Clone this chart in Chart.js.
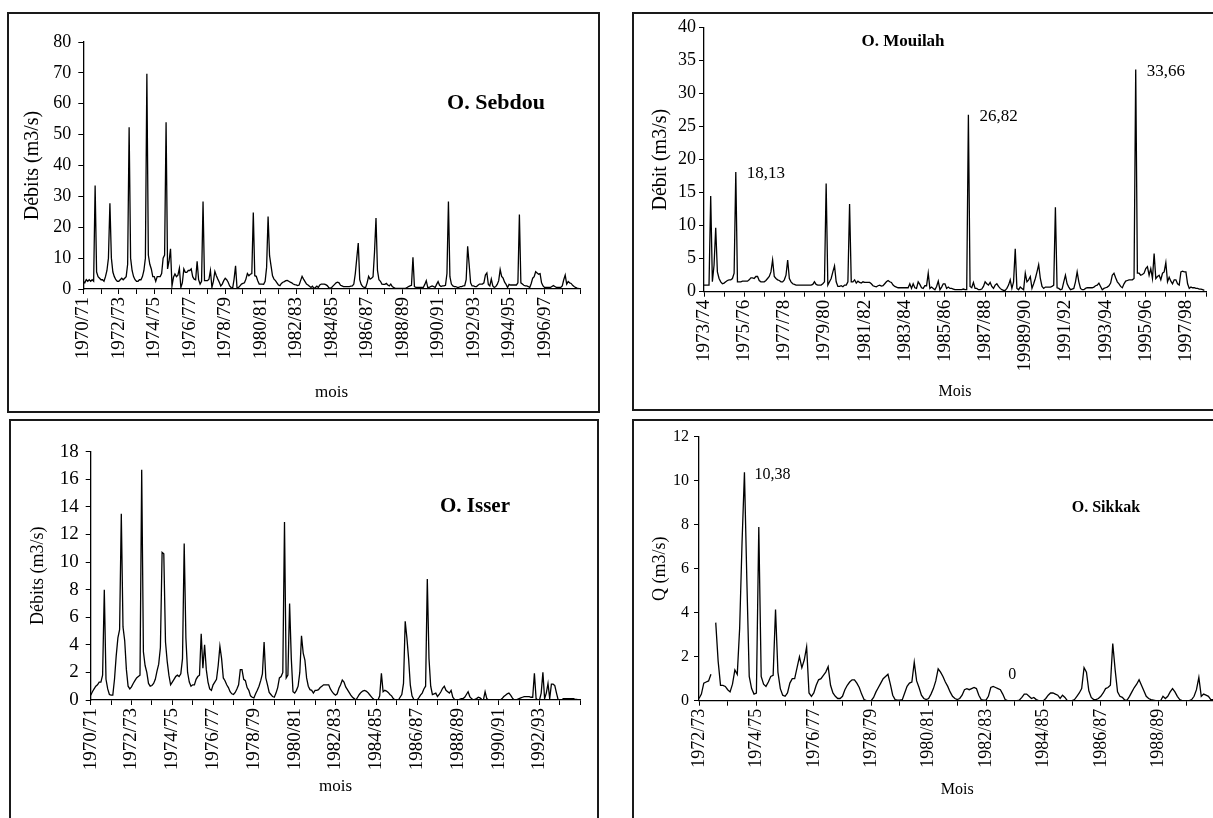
<!DOCTYPE html>
<html>
<head>
<meta charset="utf-8">
<title>Débits mensuels - O. Sebdou, O. Mouilah, O. Isser, O. Sikkak</title>
<script src="https://cdn.jsdelivr.net/npm/chart.js@4.4.1/dist/chart.umd.min.js"></script>
<style>
  body { margin: 0; width: 1213px; height: 818px; overflow: hidden; background: #fff; position: relative; }
  .box { position: absolute; border: 2px solid #1a1a1a; box-sizing: border-box; }
  canvas { position: absolute; }
</style>
</head>
<body>
<div class="box" style="left:7px;top:12px;width:593px;height:401px"></div>
<div class="box" style="left:632px;top:12px;width:700px;height:399px"></div>
<div class="box" style="left:9px;top:419px;width:590px;height:500px"></div>
<div class="box" style="left:632px;top:419px;width:700px;height:500px"></div>

<canvas id="sebdou" width="590" height="398" style="left:8px;top:13px"></canvas>
<canvas id="mouilah" width="580" height="396" style="left:633px;top:13px"></canvas>
<canvas id="isser" width="587" height="398" style="left:10px;top:420px"></canvas>
<canvas id="sikkak" width="600" height="398" style="left:633px;top:420px"></canvas>

<script>
/* monthly flows (m3/s), one row = one hydrological year (Sept -> Aug) */
var sebdouYears = ['1970/71','1972/73','1974/75','1976/77','1978/79','1980/81','1982/83','1984/85','1986/87','1988/89','1990/91','1992/93','1994/95','1996/97'];
var sebdouFlow = [
  2.5,2,3,2.5,3,2.5,3,2.5,33.5,5.5,4,3.5,
  3,3,2.5,4,6,10,27.8,10,5.5,4,3,2.5,
  2.5,3,3.5,3,3.5,4,8,52.4,10,6,4,3,
  2.5,2.5,3,3,4,6,10,69.7,11,8,6.5,4,
  4,2.5,4,4,4,5,10,11,54,6.5,9,13,
  1,3.8,4.9,4,4.5,6.7,0.5,2,6.5,5.4,5.4,6,
  6,6.5,4,3.2,3,9,3,1.6,2.5,28.3,2.7,2.7,
  2.7,3.2,6,0.5,2.5,5.7,4.3,3.2,2.2,1,1.6,2.7,
  3.5,3,2.2,1,0.5,0.2,3.2,7.5,0.2,0.5,1,1.6,
  1.8,2,3.2,5,4.3,4.8,5,24.8,4.3,4.1,2.7,1.6,
  1.6,1.6,1.5,2.5,7,23.5,10.8,7.5,4.3,3.2,2.7,2,
  1.3,1.1,1.8,2.2,2.4,2.7,2.8,2.5,2.2,2,1.6,1.4,
  1.3,1.1,1.3,2.7,4.1,3.2,2.4,1.6,1.3,0.9,0.5,0.9,
  0.2,0.5,0.9,0.5,1.3,1.6,1.6,1.6,1.4,1.1,0.5,0.2,
  0.5,1,1.5,2,2.2,2,1.2,1,0.8,0.8,0.8,0.8,
  0.8,0.9,1,1.6,5,10,14.9,3,1.5,0.8,0.5,0.5,
  2,4.1,3.2,3.5,4,12,23,6,3,2.5,1.6,1.5,
  1.5,1.8,1.3,1,1.6,0.8,0.5,0.2,0.2,0.2,0.2,0.2,
  0.2,0.2,0.2,0.5,0.8,1,1.2,10.3,0.8,0.5,0.5,0.5,
  0.5,0.5,0.5,1.5,2.7,0.5,0.5,0.8,1,0.8,0.5,1.5,
  2.4,1.2,0.8,1,1,1.2,5,28.3,4,1.6,1,0.8,
  0.8,0.5,0.5,0.8,0.8,1,1.1,3,13.8,8,2,1,
  1,0.8,0.8,1.2,1.6,1.6,1.6,2,4.5,5.2,1.5,1,
  3.2,1,0.5,0.8,1.5,2.7,6.3,4.1,3.5,2.2,1.5,0.5,
  1.5,1.3,1.3,1.3,1.3,1.3,2,24.1,2,1.6,1.2,1,
  1,0.8,0.5,1.8,3.5,4,5.6,5.2,4.8,5,2,1,
  0.5,0.5,0.5,0.5,0.5,0.8,1.1,0.8,0.5,0.5,0.5,0.5,
  1,3,4.5,1.6,2.4,2,1.8,1.2,0.8,0.5,0.3,0.2
];

var mouilahYears = ['1973/74','1975/76','1977/78','1979/80','1981/82','1983/84','1985/86','1987/88','19989/90','1991/92','1993/94','1995/96','1997/98'];
var mouilahFlow = [
  1,1,1,1,14.5,1.5,4,9.7,3,2,1.5,1.2,
  1.3,1.5,1.7,1.8,1.8,2,2.8,18.13,1.5,1.5,1.5,1.6,
  1.6,1.6,1.6,1.8,2.1,2.1,2,2.3,2.3,1.7,1.5,1.5,
  1.5,1.7,2,2.3,3,4.8,2.3,2,1.8,1.7,1.5,1.5,
  1.8,2.5,4.8,2,1.5,1.2,1.1,1,1,1,1,1,
  1,1,1,1,1,1.1,1.5,1.1,1,1,1,1.2,
  1.5,16.4,1,1.5,2,3,3.9,1.5,0.8,0.8,0.9,0.75,
  1,1,1.5,13.3,1.5,1.5,1.8,1.3,1.6,1.4,1.3,1.5,
  1.4,1.4,1.4,1.4,1.2,0.9,0.8,0.75,0.9,1,0.85,0.9,
  1.2,1.5,1.7,1.5,1.4,1,0.8,0.7,0.6,0.6,0.6,0.6,
  0.6,0.6,0.6,1.2,0.5,1.2,0.6,0.5,1.5,1.1,0.6,0.5,
  0.9,0.9,2.8,0.5,0.7,0.5,0.3,0.8,1.6,0.3,0.7,1.2,
  1.2,0.5,0.7,0.5,0.5,0.4,0.3,0.3,0.3,0.3,0.3,0.4,
  0.3,0.3,26.82,0.8,0.6,1.4,0.5,0.5,0.3,0.3,0.4,0.8,
  1.5,1.2,1,1.4,0.8,0.5,1,1.2,0.8,0.5,0.3,0.2,
  0.2,0.5,1,1.8,0.5,1.5,6.5,0.5,0.3,0.7,0.5,0.3,
  2.8,1.5,1.8,2.3,0.5,1.2,2,3,4.1,2,0.8,0.5,
  0.7,0.7,0.7,0.7,0.8,1,12.8,0.6,0.5,0.3,0.4,1.5,
  2.5,1.2,0.7,0.3,0.4,0.5,1.5,3,1.5,0.5,0.3,0.3,
  0.5,0.6,0.6,0.6,0.6,0.7,0.9,1,1.3,0.8,0.3,0.5,
  0.6,0.7,0.9,1.3,2.5,2.8,2.1,1.5,1.2,0.8,0.6,1.2,
  1.6,1.7,1.8,1.8,1.8,2,33.66,2.8,2.8,2.5,2.6,2.8,
  3.5,3.8,2.5,3.5,2,5.8,2,2.3,2.5,1.8,2.8,3,
  4.4,1.5,2.2,1.6,1.2,1.8,1.8,1.2,1,3,3.1,3,
  3,1.2,0.5,0.7,0.6,0.6,0.5,0.5,0.4,0.4,0.3,0.2
];
var mouilahPeaks = [19, 158, 258];

var isserYears = ['1970/71','1972/73','1974/75','1976/77','1978/79','1980/81','1982/83','1984/85','1986/87','1988/89','1990/91','1992/93'];
var isserFlow = [
  0.35,0.6,0.8,1,1.1,1.3,1.3,1.8,8,1.5,0.8,0.4,
  0.35,0.35,1.5,3.2,4.5,5.1,13.5,5.3,4.3,2.2,1,0.8,
  0.95,1.2,1.4,1.6,1.7,1.8,16.7,3.5,2.5,2,1.2,1,
  1.05,1.2,1.5,2.1,2.6,3.8,10.7,10.6,4.2,2.8,1.8,1.1,
  1.3,1.5,1.7,1.8,1.7,1.9,3,11.35,4.5,2,1.3,1,
  1.1,1.1,1.5,1.7,1.8,4.8,2.3,4,2.2,1.3,0.8,0.7,
  1.1,1.3,1.5,2.5,3.9,3,1.6,1.4,1.1,0.9,0.6,0.45,
  0.4,0.55,0.8,1.1,2.2,2.2,1.5,1.4,0.9,0.7,0.3,0.2,
  0.15,0.45,0.7,1,1.4,1.9,4.2,1.6,1.1,0.55,0.4,0.25,
  0.2,0.5,0.9,1.6,1.7,2,12.9,1.6,1.8,7,3,0.6,
  0.5,0.7,1,2,4.66,3.4,2.9,1.6,1,0.75,0.7,0.5,
  0.7,0.7,0.75,0.9,1,1.1,1.1,1.1,1.1,0.8,0.6,0.45,
  0.35,0.45,0.85,1.1,1.45,1.3,0.95,0.75,0.55,0.35,0.2,0.1,
  0,0.2,0.4,0.55,0.65,0.7,0.65,0.55,0.4,0.25,0.1,0,
  0,0,0.3,1.93,0.6,0.7,0.65,0.55,0.4,0.3,0.1,0,
  0,0,0.2,0.4,1.2,5.7,4.5,3,1.1,0.3,0.05,0,
  0,0.15,0.35,0.5,0.8,1,8.77,3,1,0.4,0.45,0.5,
  0.25,0.4,0.6,0.85,1,0.7,0.6,0.5,0.7,0.2,0.05,0,
  0,0.05,0.1,0.1,0.2,0.4,0.6,0.25,0.1,0,0.05,0.1,
  0.2,0.15,0.05,0,0.6,0.1,0,0,0,0,0,0,
  0,0,0.1,0.25,0.35,0.45,0.5,0.35,0.15,0,0,0.05,
  0.1,0.15,0.2,0.25,0.25,0.25,0.25,0.2,0.2,1.93,0.1,0,
  0,0.5,2,0.1,0.5,1.2,0.1,1.15,1.15,1.05,0.5,0,
  0,0,0.1,0.1,0.1,0.1,0.1,0.1,0.1,0.05,0.05,0
];

var sikkakYears = ['1972/73','1974/75','1976/77','1978/79','1980/81','1982/83','1984/85','1986/87','1988/89'];
var sikkakFlow = [
  0.1,0.3,0.8,0.85,0.9,1.2,null,3.55,1.8,0.7,0.7,0.65,
  0.5,0.4,0.75,1.4,1.2,3.3,7.2,10.38,5.5,1.1,0.55,0.3,
  0.35,7.9,1.1,0.75,0.65,0.85,1.1,1.15,4.15,1.3,0.55,0.25,
  0.2,0.35,0.8,1,1,1.5,2,1.5,1.85,2.45,0.35,0.2,
  0.35,0.7,0.95,1,1.15,1.3,1.55,0.7,0.35,0.2,0.1,0.1,
  0.2,0.5,0.7,0.85,0.95,0.95,0.8,0.6,0.3,0.05,0,0,
  0,0.15,0.4,0.6,0.8,1,1.1,1.2,0.75,0.25,0.05,0.03,
  0.03,0.05,0.35,0.65,0.8,0.85,1.75,0.9,0.6,0.25,0.1,0.05,
  0.1,0.3,0.55,0.9,1.45,1.3,1.1,0.85,0.65,0.4,0.2,0.1,
  0.05,0.1,0.25,0.5,0.55,0.5,0.55,0.6,0.55,0.25,0.05,0.03,
  0.03,0.2,0.6,0.65,0.6,0.55,0.5,0.3,0.05,0,0,0,
  0,0,0.03,0.15,0.3,0.3,0.2,0.1,0.15,0.05,0,0,
  0,0.1,0.25,0.35,0.35,0.3,0.25,0.1,0.25,0.15,0,0,
  0,0.05,0.2,0.35,0.55,1.5,1.3,0.45,0.15,0.05,0.05,0.1,
  0.2,0.35,0.55,0.6,0.7,2.6,1.4,0.4,0.2,0.15,0.03,0.03,
  0.2,0.4,0.6,0.75,0.95,0.7,0.45,0.2,0.1,0.05,0.03,0,
  0,0,0.2,0.1,0.2,0.4,0.55,0.4,0.2,0.05,0,0,
  0,0,0.05,0.2,0.5,1.06,0.2,0.3,0.25,0.2,0.05,0.05
];
var sikkakPeaks = [19];
var sikkakZeros = [131];

var SERIF = "'Liberation Serif', 'Times New Roman', serif";

// value -> "10,38" like the original labels
function frNumber(v) {
    return v === 0 ? '0' : v.toFixed(2).replace('.', ',');
}

function toPoints(arr) {
    return arr.map(function(v, i) { return { x: i, y: v }; });
}

// titles + peak labels drawn on top of the line
var panelText = {
    id: 'panelText',
    afterDatasetsDraw: function(chart, args, opts) {
        var ctx = chart.ctx;
        var data = chart.data.datasets[0].data;
        var xs = chart.scales.x, ys = chart.scales.y;
        ctx.save();
        ctx.fillStyle = '#000';
        ctx.textBaseline = 'middle';
        ctx.font = 'bold ' + opts.titleSize + 'px ' + SERIF;
        ctx.textAlign = 'center';
        ctx.fillText(opts.title, opts.titleX, opts.titleY);
        ctx.font = opts.noteSize + 'px ' + SERIF;
        (opts.notes || []).forEach(function(n) {
            var p = data[n.idx];
            var px = xs.getPixelForValue(p.x);
            var py = ys.getPixelForValue(p.y);
            ctx.textAlign = n.align;
            ctx.fillText(frNumber(p.y), px + n.dx, py + n.dy);
        });
        ctx.restore();
    }
};

function RenderPanel(id, o) {
    var ctx = document.getElementById(id).getContext('2d');
    return new Chart(ctx, {
        type: 'line',
        data: {
            datasets: [{
                data: toPoints(o.values),
                borderColor: '#000',
                borderWidth: 1.3,
                pointRadius: 0,
                tension: 0,
                fill: false,
                spanGaps: false
            }]
        },
        plugins: [panelText],
        options: {
            responsive: false,
            animation: false,
            layout: { padding: { left: 0, top: o.top, right: o.right, bottom: 0 } },
            plugins: {
                legend: { display: false },
                tooltip: { enabled: false },
                panelText: {
                    title: o.title, titleX: o.titleX, titleY: o.titleY, titleSize: o.titleSize,
                    noteSize: o.noteSize || 16, notes: o.notes
                }
            },
            scales: {
                x: {
                    type: 'linear',
                    min: 0,
                    max: o.months,
                    grid: { drawOnChartArea: false, drawTicks: true, tickLength: 5, color: '#000' },
                    border: { color: '#000', width: 1.3 },
                    ticks: {
                        stepSize: 12,
                        autoSkip: false,
                        minRotation: 90,
                        maxRotation: 90,
                        padding: 3,
                        color: '#000',
                        font: { family: SERIF, size: o.xTickSize },
                        callback: function(v) {
                            if (v % 24 === 0 && v / 24 < o.years.length) return o.years[v / 24];
                            return '';
                        }
                    },
                    title: {
                        display: true, text: o.xTitle, color: '#000',
                        font: { family: SERIF, size: o.xTitleSize },
                        padding: { top: 0, bottom: o.xTitlePad }
                    },
                    afterFit: function(s) {
                        s.height = o.xHeight;
                        s.paddingLeft = 0; s.paddingRight = 0;
                    }
                },
                y: {
                    min: 0,
                    max: o.yMax,
                    grid: { drawOnChartArea: false, drawTicks: true, tickLength: 5, color: '#000' },
                    border: { color: '#000', width: 1.3 },
                    ticks: {
                        stepSize: o.yStep,
                        padding: o.yTickPad,
                        color: '#000',
                        font: { family: SERIF, size: o.yTickSize }
                    },
                    title: {
                        display: true, text: o.yTitle, color: '#000',
                        font: { family: SERIF, size: o.yTitleSize },
                        padding: { top: o.yTitlePad, bottom: 0 }
                    },
                    afterFit: function(s) {
                        s.width = o.yWidth;
                        s.paddingTop = 0; s.paddingBottom = 0;
                    }
                }
            }
        }
    });
}

RenderPanel('sebdou', {
    values: sebdouFlow, years: sebdouYears, months: 336,
    yMax: 80, yStep: 10,
    top: 29, right: 18, yWidth: 75.3, xHeight: 122,
    xTickSize: 19, yTickSize: 18, yTickPad: 7,
    yTitle: 'Débits (m3/s)', yTitleSize: 20, yTitlePad: 13,
    xTitle: 'mois', xTitleSize: 17, xTitlePad: 8,
    title: 'O. Sebdou', titleSize: 22, titleX: 488, titleY: 90
});

RenderPanel('mouilah', {
    values: mouilahFlow, years: mouilahYears, months: 300,
    yMax: 40, yStep: 5,
    top: 14.7, right: 7, yWidth: 71, xHeight: 117.3,
    xTickSize: 19, yTickSize: 18, yTickPad: 3,
    yTitle: 'Débit (m3/s)', yTitleSize: 20, yTitlePad: 15.5,
    xTitle: 'Mois', xTitleSize: 16, xTitlePad: 7.4,
    title: 'O. Mouilah', titleSize: 17, titleX: 270, titleY: 28.5,
    noteSize: 17,
    notes: mouilahPeaks.map(function(i) { return { idx: i, dx: 11, dy: 1.5, align: 'left' }; })
});

RenderPanel('isser', {
    values: isserFlow, years: isserYears, months: 288,
    yMax: 18, yStep: 2,
    top: 31.7, right: 16.7, yWidth: 80.7, xHeight: 118,
    xTickSize: 19, yTickSize: 19, yTickPad: 7,
    yTitle: 'Débits (m3/s)', yTitleSize: 18, yTitlePad: 17.2,
    xTitle: 'mois', xTitleSize: 17, xTitlePad: 20.8,
    title: 'O. Isser', titleSize: 21, titleX: 465, titleY: 86.5
});

RenderPanel('sikkak', {
    values: sikkakFlow, years: sikkakYears, months: 216,
    yMax: 12, yStep: 2,
    top: 16.7, right: 17.4, yWidth: 66, xHeight: 117.3,
    xTickSize: 18, yTickSize: 16, yTickPad: 5,
    yTitle: 'Q (m3/s)', yTitleSize: 18, yTitlePad: 16.7,
    xTitle: 'Mois', xTitleSize: 16, xTitlePad: 18.4,
    title: 'O. Sikkak', titleSize: 16, titleX: 473, titleY: 87.5,
    noteSize: 16,
    notes: sikkakPeaks.map(function(i) { return { idx: i, dx: 10, dy: 2, align: 'left' }; })
        .concat(sikkakZeros.map(function(i) { return { idx: i, dx: 0, dy: -25.7, align: 'center' }; }))
});
</script>
</body>
</html>
